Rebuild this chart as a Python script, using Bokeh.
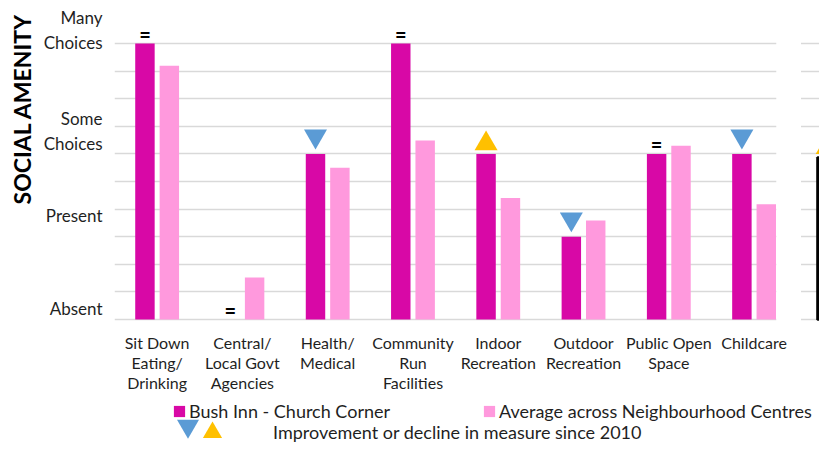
from bokeh.plotting import figure
from bokeh.models import (Range1d, FixedTicker, ColumnDataSource, CDSView, GroupFilter,
                          IndexFilter, Legend, LegendItem, BoxAnnotation, Title)
from bokeh.transform import dodge
from bokeh.core.properties import value
from bokeh.embed import file_html
from bokeh.resources import INLINE

# ---------------- data ----------------
categories = ["Sit Down\nEating/\nDrinking", "Central/\nLocal Govt\nAgencies", "Health/\nMedical",
              "Community\nRun\nFacilities", "Indoor\nRecreation", "Outdoor\nRecreation",
              "Public Open\nSpace", "Childcare", "OVERALL"]
bush_inn = [10, 0, 6, 10, 6, 3, 6, 6, 5.87]
average = [9.19, 1.52, 5.5, 6.49, 4.4, 3.59, 6.3, 4.18]
change = ["=", "=", "down", "=", "up", "down", "=", "down", "up"]
ytick_values = [0.4, 3.77, 6.83, 10.5]
ytick_labels = ["Absent", "Present", "Some\nChoices", "Many\nChoices"]
grid_values = list(range(0, 11))
series_names = ["Bush Inn - Church Corner", "Average across Neighbourhood Centres"]
change_note = "Improvement or decline in measure since 2010"
axis_title = "SOCIAL AMENITY"

DARK = "#D808A6"
LIGHT = "#FF99DD"
BLUE = "#5B9BD5"
YELLOW = "#FFC000"
TXT = "#1f1f1f"
FONT = "Lato"

xs = [i + 0.5 for i in range(len(categories))]
overall_idx = categories.index("OVERALL")
src = ColumnDataSource(dict(x=xs, bush=bush_inn, change=change))
src_avg = ColumnDataSource(dict(x=xs[:len(average)], avg=average))

p = figure(width=819, height=445, x_range=Range1d(0, 8.267), y_range=Range1d(-4.565, 11.196),
           output_backend="svg", toolbar_location=None,
           min_border_left=113, min_border_right=0, min_border_top=10, min_border_bottom=0)
p.outline_line_color = None
p.background_fill_color = "white"
p.xgrid.visible = False
p.ygrid.ticker = FixedTicker(ticks=grid_values)
p.ygrid.grid_line_color = "#D9D9D9"
p.ygrid.grid_line_width = 1.6

# y axis
ya = p.yaxis[0]
ya.ticker = FixedTicker(ticks=ytick_values)
ya.major_label_overrides = dict(zip(ytick_values, ytick_labels))
ya.axis_line_color = None
ya.major_tick_line_color = None
ya.minor_tick_line_color = None
ya.major_tick_out = 0
ya.major_tick_in = 0
ya.major_label_standoff = 12
ya.major_label_text_font = FONT
ya.major_label_text_font_size = "17px"
ya.major_label_text_color = TXT
ya.major_label_text_line_height = 1.2

# x axis drawn at the zero line, inside the frame
xa = p.xaxis[0]
xa.fixed_location = 0
xa.ticker = FixedTicker(ticks=xs)
xa.major_label_overrides = dict(zip(xs, categories))
xa.axis_line_color = None
xa.major_tick_line_color = None
xa.minor_tick_line_color = None
xa.major_tick_out = 0
xa.major_tick_in = 0
xa.major_label_standoff = 13
xa.major_label_text_font = FONT
xa.major_label_text_font_size = "16px"
xa.major_label_text_color = TXT
xa.major_label_text_line_height = 1.06

# vertical axis title
p.add_layout(Title(text=axis_title, align="right", offset=3, text_font=FONT,
                   text_font_style="bold", text_font_size="23px", text_color="black"), "left")

# gap between the main panel and the overall panel
p.add_layout(BoxAnnotation(left=7.76, right=8.05, bottom=-0.1, top=10.1,
                           fill_color="white", fill_alpha=1.0, line_alpha=0))

main_view = CDSView(filter=IndexFilter([i for i in range(len(categories)) if i != overall_idx]))
r_bush = p.vbar(x=dodge("x", -0.143), top="bush", width=0.228, source=src, view=main_view,
                fill_color=DARK, line_color=None)
p.vbar(x=dodge("x", -0.143), top="bush", width=0.228, source=src,
       view=CDSView(filter=IndexFilter([overall_idx])),
       fill_color=DARK, line_color="black", line_width=2.5)
r_avg = p.vbar(x=dodge("x", 0.143), top="avg", width=0.228, source=src_avg,
               fill_color=LIGHT, line_color=None)

r_down = p.scatter(x=dodge("x", -0.143), y=dodge("bush", 0.64), source=src,
                   view=CDSView(filter=GroupFilter(column_name="change", group="down")),
                   marker="inverted_triangle", size=23, fill_color=BLUE, line_color=None)
r_up = p.scatter(x=dodge("x", -0.143), y=dodge("bush", 0.37), source=src,
                 view=CDSView(filter=GroupFilter(column_name="change", group="up")),
                 marker="triangle", size=23, fill_color=YELLOW, line_color=None)
p.text(x=dodge("x", -0.143), y="bush", text="change", source=src,
       view=CDSView(filter=GroupFilter(column_name="change", group="=")),
       text_align="center", text_baseline="middle", y_offset=-10,
       text_font=value(FONT), text_font_style="bold", text_font_size="20px", text_color="black")


def mk_legend(items, loc, gw, gh, standoff):
    lg = Legend(items=items, location=loc, orientation="horizontal",
                glyph_width=gw, glyph_height=gh, label_height=gh, label_standoff=standoff,
                padding=0, margin=0, spacing=0, border_line_color=None,
                background_fill_alpha=0, label_text_font=FONT, label_text_font_size="18px",
                label_text_color=TXT)
    p.add_layout(lg)
    return lg


mk_legend([LegendItem(label=series_names[0], renderers=[r_bush])], (58, 23), 14, 14, 3)
mk_legend([LegendItem(label=series_names[1], renderers=[r_avg])], (368, 23), 14, 14, 3)
mk_legend([LegendItem(label="", renderers=[r_down])], (46, -8), 55, 55, 0)
mk_legend([LegendItem(label=change_note, renderers=[r_up])], (74, -11), 48, 48, 37)

open("out.html", "w").write(file_html(p, INLINE))
